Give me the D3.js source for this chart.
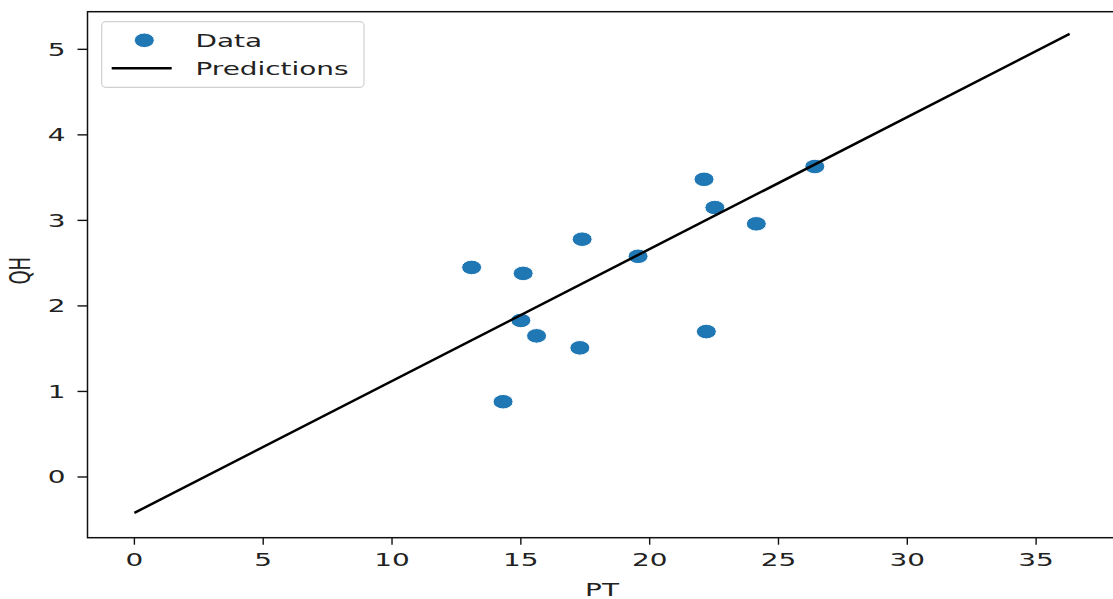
<!DOCTYPE html>
<html>
<head>
<meta charset="utf-8">
<script src="https://cdn.jsdelivr.net/npm/d3@7"></script>
<style>
  body { margin: 0; background: #fff; }
  svg text { font-family: "DejaVu Sans", sans-serif; fill: #222; }
</style>
</head>
<body>
<svg width="1113" height="599"></svg>
<script>
// Observed PT / QH pairs
var ptValues = [13.09, 14.31, 15.00, 15.09, 15.61, 17.29, 17.38, 19.55, 22.11, 22.20, 22.53, 24.14, 26.41];
var qhValues = [2.45, 0.88, 1.83, 2.38, 1.65, 1.51, 2.78, 2.58, 3.48, 1.70, 3.15, 2.96, 3.63];

// Fitted line end points
var predPT = [0, 36.3];
var predQH = [-0.42, 5.18];

var xTicks = [0, 5, 10, 15, 20, 25, 30, 35];
var yTicks = [0, 1, 2, 3, 4, 5];

// Configuration
var margin = { left: 87.5, top: 11.7, right: -3.5, bottom: 61.3 }
  , width = 1113
  , height = 599
  , xLim = [-1.82, 38.12]
  , yLim = [-0.71, 5.44]
  , stretch = 1.55      // the picture is wider than it is tall
  , fontSize = 18
  , blue = "#1f77b4"
;

var svg = d3.select("svg");

var x = d3.scaleLinear().domain(xLim).range([margin.left, width - margin.right]);
var y = d3.scaleLinear().domain(yLim).range([height - margin.bottom, margin.top]);

var points = ptValues.map(function (d, i) { return { pt: d, qh: qhValues[i] }; });
var pred = predPT.map(function (d, i) { return { pt: d, qh: predQH[i] }; });

// stretched text helper
function label(g, txt, px, py, anchor, rot) {
  return g.append("text")
      .attr("transform", "translate(" + px + "," + py + ") scale(" + stretch + ",1)" + (rot ? " rotate(" + rot + ")" : ""))
      .attr("text-anchor", anchor)
      .style("font-size", fontSize + "px")
      .text(txt);
}

var plot = svg.append("g");

// data points
plot.selectAll("ellipse.pt")
    .data(points)
  .enter().append("ellipse")
    .attr("class", "pt")
    .attr("cx", function (d) { return x(d.pt); })
    .attr("cy", function (d) { return y(d.qh); })
    .attr("rx", 10)
    .attr("ry", 7.3)
    .attr("fill", blue)
    .attr("stroke", "#fff")
    .attr("stroke-width", 1);

// prediction line
plot.append("path")
    .datum(pred)
    .attr("fill", "none")
    .attr("stroke", "#000")
    .attr("stroke-width", 2.5)
    .attr("d", d3.line().x(function (d) { return x(d.pt); }).y(function (d) { return y(d.qh); }));

// frame
svg.append("rect")
    .attr("x", x(xLim[0]))
    .attr("y", y(yLim[1]))
    .attr("width", x(xLim[1]) - x(xLim[0]))
    .attr("height", y(yLim[0]) - y(yLim[1]))
    .attr("fill", "none")
    .attr("stroke", "#111")
    .attr("stroke-width", 1.5);

// axes
var axes = svg.append("g");
var x0 = x(xLim[0]), yBottom = y(yLim[0]);

xTicks.forEach(function (t) {
  axes.append("line")
      .attr("x1", x(t)).attr("x2", x(t))
      .attr("y1", yBottom).attr("y2", yBottom + 7)
      .attr("stroke", "#111").attr("stroke-width", 1.4);
  label(axes, String(t), x(t), yBottom + 28.5, "middle");
});

yTicks.forEach(function (t) {
  axes.append("line")
      .attr("x1", x0 - 10).attr("x2", x0)
      .attr("y1", y(t)).attr("y2", y(t))
      .attr("stroke", "#111").attr("stroke-width", 1.4);
  label(axes, String(t), x0 - 22, y(t) + 6.5, "end");
});

label(axes, "PT", (x(xLim[0]) + x(xLim[1])) / 2, 595.5, "middle");
label(axes, "QH", 30, (y(yLim[0]) + y(yLim[1])) / 2 - 4, "middle", -90);

// legend
var legend = svg.append("g");
legend.append("rect")
    .attr("x", 101.7).attr("y", 21.7)
    .attr("width", 262.3).attr("height", 65.6)
    .attr("rx", 4)
    .attr("fill", "#fff").attr("fill-opacity", 0.8)
    .attr("stroke", "#d0d0d0").attr("stroke-width", 1.2);
legend.append("ellipse")
    .attr("cx", 144.3).attr("cy", 40.3)
    .attr("rx", 10).attr("ry", 7.3)
    .attr("fill", blue).attr("stroke", "#fff");
legend.append("line")
    .attr("x1", 111.7).attr("x2", 171.7)
    .attr("y1", 68.3).attr("y2", 68.3)
    .attr("stroke", "#000").attr("stroke-width", 2.5);
label(legend, "Data", 195.5, 47, "start");
label(legend, "Predictions", 195.5, 75, "start");
</script>
</body>
</html>
